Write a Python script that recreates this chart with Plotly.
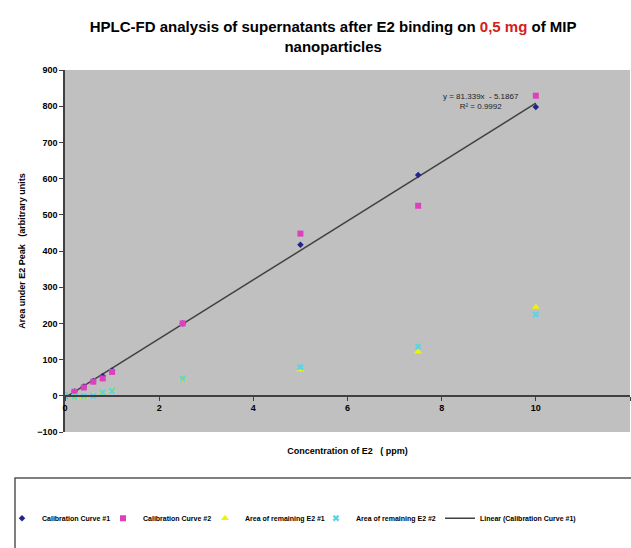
import plotly.graph_objects as go

# ---- data ----
conc = [0, 0.2, 0.4, 0.6, 0.8, 1.0, 2.5, 5, 7.5, 10]
cal1 = [0, 12, 26, 41, 55, 70, 200, 417, 610, 798]
cal2 = [0, 11, 23, 39, 48, 66, 200, 448, 525, 829]
rem1 = [0, -4, -3, 1, 9, 14, 46, 72, 122, 245]
rem2 = [0, -2, -1, 0, 10, 14, 48, 79, 136, 225]
slope = 81.339
intercept = -5.1867
r2 = 0.9992
xticks = [0, 2, 4, 6, 8, 10, 12]
yticks = list(range(-100, 901, 100))

FONT = "Liberation Sans, Arial, sans-serif"
L_MARGIN, PLOT_W = 65, 565

def px2paper(px):
    return (px - L_MARGIN) / PLOT_W

fig = go.Figure()
lx = [min(conc), max(conc)]
ly = [slope * v + intercept for v in lx]
fig.add_trace(go.Scatter(x=lx, y=ly, mode="lines", name="Linear (Calibration Curve #1)",
                         legend="legend5", line=dict(color="#404040", width=1.5)))
fig.add_trace(go.Scatter(x=conc, y=cal1, mode="markers", name="Calibration Curve #1",
                         legend="legend", marker=dict(symbol="diamond", size=5, color="#23238C")))
fig.add_trace(go.Scatter(x=conc, y=cal2, mode="markers", name="Calibration Curve #2",
                         legend="legend2", marker=dict(symbol="square", size=6, color="#DD3FBE")))
fig.add_trace(go.Scatter(x=conc, y=rem1, mode="markers", name="Area of remaining E2 #1",
                         legend="legend3", marker=dict(symbol="triangle-up", size=7, color="#F2F200")))
fig.add_trace(go.Scatter(x=conc, y=rem2, mode="markers", name="Area of remaining E2 #2",
                         legend="legend4", marker=dict(symbol="x", size=6, color="#5FD3E6")))

fig.add_annotation(x=8.83, y=812, xref="x", yref="y",
                   text=f"y = {slope}x  - {abs(intercept)}<br>R² = {r2}",
                   showarrow=False, font=dict(family=FONT, size=8, color="#222"),
                   align="center")

def leg(px):
    return dict(orientation="h", x=px2paper(px), xanchor="left", y=-0.238, yanchor="middle",
                font=dict(family=FONT, size=7, color="black", weight="bold"),
                bgcolor="rgba(0,0,0,0)", itemwidth=30)

tickfont = dict(family=FONT, size=9, color="black", weight="bold")
fig.update_layout(
    width=631, height=548,
    margin=dict(l=65, r=1, t=70, b=116),
    paper_bgcolor="white", plot_bgcolor="#C0C0C0",
    font=dict(family=FONT, color="black"),
    title=dict(
        text="<b>HPLC-FD analysis of supernatants after E2 binding on "
             "<span style='color:#D62020'>0,5 mg</span> of MIP<br>nanoparticles</b>",
        x=0.528, xanchor="center", y=1 - 32 / 548, yanchor="middle",
        font=dict(family=FONT, size=15, color="black")),
    showlegend=True,
    legend=leg(2), legend2=leg(103), legend3=leg(205), legend4=leg(316), legend5=leg(440),
    xaxis=dict(range=[0, 12], tickvals=xticks, showgrid=False, zeroline=False,
               showline=True, linecolor="#404040", linewidth=1.5,
               anchor="free", position=0.1,
               ticks="outside", ticklen=4, tickcolor="#404040",
               tickfont=tickfont,
               title=dict(text="<b>Concentration of E2   ( ppm)</b>", standoff=34,
                          font=dict(family=FONT, size=9, color="black"))),
    yaxis=dict(range=[-100, 900], tickvals=yticks, showgrid=False, zeroline=False,
               showline=True, linecolor="#404040", linewidth=1.5,
               ticks="outside", ticklen=4, tickcolor="#404040",
               tickfont=tickfont,
               title=dict(text="<b>Area under E2 Peak   (arbitrary units</b>", standoff=10,
                          font=dict(family=FONT, size=9, color="black"))),
)
# legend frame
fig.add_shape(type="rect", xref="paper", yref="paper", x0=px2paper(15), x1=1.05,
              y0=-0.127, y1=-0.5, line=dict(color="#555555", width=1.5),
              fillcolor="rgba(0,0,0,0)", layer="below")

fig.write_html("out.html")
